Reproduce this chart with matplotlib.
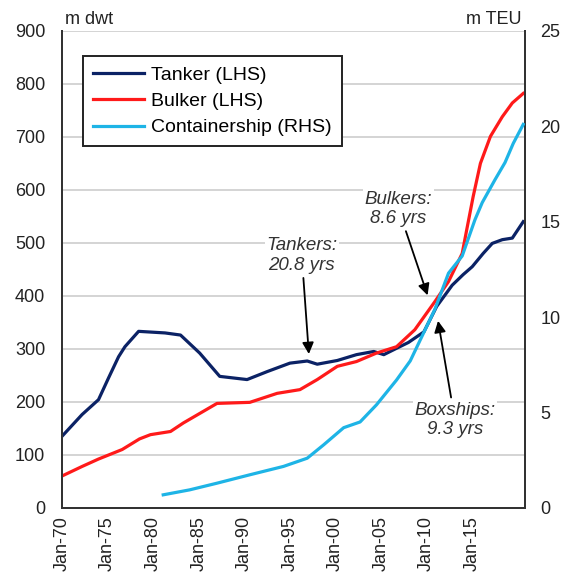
import numpy as np
import matplotlib
matplotlib.use("Agg")
import matplotlib.pyplot as plt
from matplotlib.lines import Line2D

plt.rcParams['font.family'] = ['Liberation Sans', 'DejaVu Sans']

# data (x in the chart's own year scale)
tanker_years = [1970.0, 1972.2, 1974.0, 1975.1, 1976.2, 1976.9, 1978.4, 1981.3, 1983.0,
                1985.1, 1987.3, 1990.3, 1992.5, 1995.0, 1996.9, 1998.0, 2000.2, 2002.3,
                2004.2, 2005.3, 2006.7, 2008.0, 2009.7, 2011.1, 2012.8, 2014.0, 2015.0,
                2016.2, 2017.2, 2018.3, 2019.4, 2020.6]
tanker = [135, 176, 204, 245, 285, 304, 333, 330, 326,
          292, 248, 242, 257, 273, 277, 271, 278, 289,
          295, 289, 301, 312, 332, 380, 420, 440, 455,
          480, 499, 506, 509, 540]

bulker_years = [1970.0, 1972.2, 1974.0, 1976.6, 1978.5, 1979.7, 1981.9, 1983.3, 1984.8,
                1987.0, 1990.6, 1993.6, 1996.1, 1998.0, 2000.2, 2002.3, 2004.5, 2006.7,
                2008.7, 2010.9, 2012.4, 2013.9, 2014.4, 2015.1, 2015.9, 2017.0, 2018.3,
                2019.4, 2020.6]
bulker = [60, 78, 92, 110, 130, 138, 144, 160, 175,
          197, 199, 216, 223, 242, 267, 276, 292, 304,
          336, 389, 427, 480, 525, 587, 650, 701, 738,
          764, 782]

box_years = [1981.1, 1984.0, 1987.0, 1990.6, 1994.3, 1996.9, 1998.7, 2000.9, 2002.7,
             2004.5, 2006.7, 2008.2, 2010.9, 2012.4, 2013.9, 2015.3, 2016.1, 2017.5,
             2018.6, 2019.5, 2020.6]
boxship = [0.68, 0.94, 1.29, 1.73, 2.17, 2.6, 3.3, 4.2, 4.5,
           5.4, 6.7, 7.7, 10.4, 12.3, 13.2, 15.1, 16.0, 17.2,
           18.1, 19.1, 20.1]

tick_years = [1970, 1975, 1980, 1985, 1990, 1995, 2000, 2005, 2010, 2015]
tick_labels = ['Jan-70', 'Jan-75', 'Jan-80', 'Jan-85', 'Jan-90',
               'Jan-95', 'Jan-00', 'Jan-05', 'Jan-10', 'Jan-15']

navy = '#0b2265'
red = '#ff1a1a'
cyan = '#1eb4e6'

fig = plt.figure(figsize=(5.64, 5.83), dpi=100)
ax = fig.add_axes([0.110, 0.129, 0.821, 0.818])
ax2 = ax.twinx()

ax.plot(tanker_years, tanker, color=navy, lw=2.3, zorder=3)
ax.plot(bulker_years, bulker, color=red, lw=2.3, zorder=3)
ax2.plot(box_years, boxship, color=cyan, lw=2.3, zorder=3)

ax.set_xlim(1970, 2020.8)
ax.set_ylim(0, 900)
ax2.set_ylim(0, 25)
ax.set_yticks(np.arange(0, 901, 100))
ax2.set_yticks(np.arange(0, 26, 5))
ax.set_xticks(tick_years)
ax.set_xticklabels(tick_labels, rotation=90)

ax.grid(axis='y', color='#d4d4d4', lw=1.4)
ax.set_axisbelow(True)
for a in (ax, ax2):
    a.spines['top'].set_visible(False)
    for s in ('left', 'right', 'bottom'):
        a.spines[s].set_color('#333333')
        a.spines[s].set_linewidth(1.4)
ax.tick_params(axis='y', length=0, pad=12, labelsize=13, colors='#222222')
ax.tick_params(axis='x', length=0, pad=6, labelsize=13, colors='#222222')
ax2.tick_params(axis='y', length=0, pad=11, labelsize=13, colors='#222222')

fig.text(0.115, 0.958, 'm dwt', fontsize=13, color='#222222')
fig.text(0.925, 0.958, 'm TEU', fontsize=13, color='#222222', ha='right')

handles = [Line2D([], [], color=navy, lw=2.3),
           Line2D([], [], color=red, lw=2.3),
           Line2D([], [], color=cyan, lw=2.3)]
leg = ax.legend(handles, ['Tanker (LHS)', 'Bulker (LHS)', 'Containership (RHS)'],
                loc='upper left', bbox_to_anchor=(0.025, 0.967), fontsize=14,
                handlelength=2.6, labelspacing=0.45, handletextpad=0.4,
                borderpad=0.5, fancybox=False, framealpha=1, edgecolor='#222222')
leg.get_frame().set_linewidth(1.4)
leg.set_zorder(5)

arrow = dict(arrowstyle='-|>', color='black', lw=1.3, mutation_scale=17)
box = dict(facecolor='white', edgecolor='none', pad=1)
ax.annotate('Tankers:\n20.8 yrs', xy=(1997.1, 285), xytext=(1996.3, 476),
            ha='center', va='center', style='italic', fontsize=13.5, color='#333333',
            bbox=box, arrowprops=arrow, zorder=4)
ax.annotate('Bulkers:\n8.6 yrs', xy=(2010.2, 396), xytext=(2006.9, 564),
            ha='center', va='center', style='italic', fontsize=13.5, color='#333333',
            bbox=box, arrowprops=arrow, zorder=4)
ax.annotate('Boxships:\n9.3 yrs', xy=(2011.2, 358), xytext=(2013.1, 166),
            ha='center', va='center', style='italic', fontsize=13.5, color='#333333',
            bbox=box, arrowprops=arrow, zorder=4)

fig.savefig('out.png', dpi=100)
